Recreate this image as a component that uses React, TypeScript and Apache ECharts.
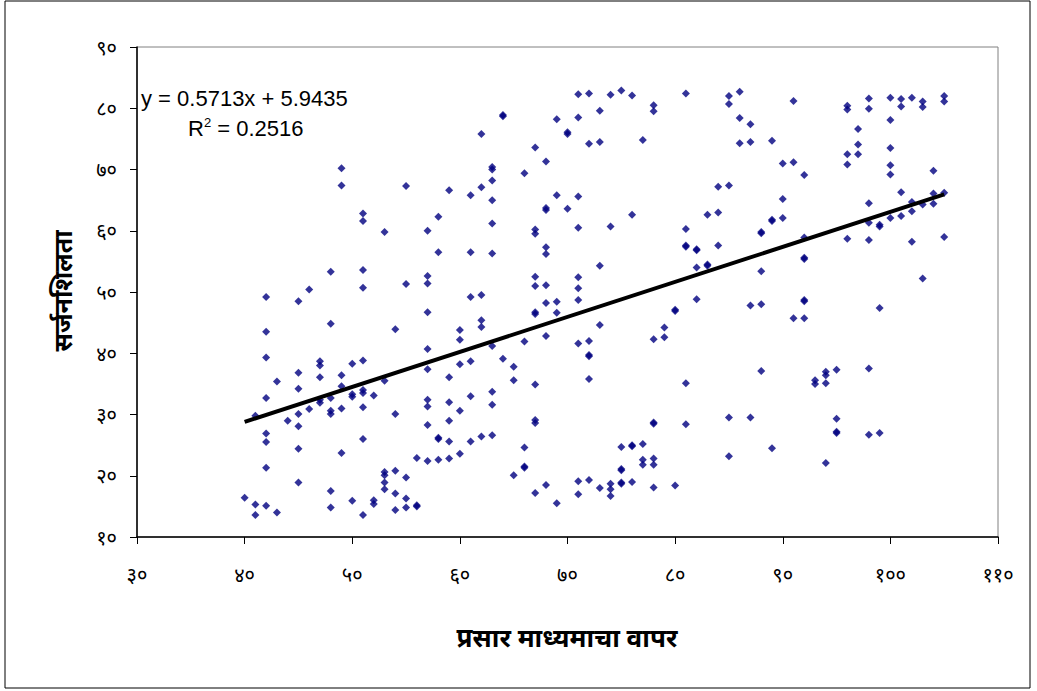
import React, { useEffect, useRef } from 'react';
import * as echarts from 'echarts';

// X categories (media usage score) and the creativity scores observed at each
const usageX = [40, 41, 42, 43, 44, 45, 46, 47, 48, 49, 50, 51, 52, 53, 54, 55, 56, 57, 58, 59, 60, 61, 62, 63, 64, 65, 66, 67, 68, 69, 70, 71, 72, 73, 74, 75, 76, 77, 78, 79, 80, 81, 82, 83, 84, 85, 86, 87, 88, 89, 90, 91, 92, 93, 94, 95, 96, 97, 98, 99, 100, 101, 102, 103, 104, 105];
const creativityY: number[][] = [
  [16.4],
  [29.8, 15.3, 13.6],
  [49.2, 43.5, 39.3, 32.7, 26.9, 25.5, 21.3, 15.1],
  [35.4, 14],
  [29],
  [48.5, 36.8, 34.2, 30.1, 28.1, 24.4, 18.9],
  [50.4, 30.9],
  [38.7, 38, 36.1, 32.4, 31.9],
  [53.3, 44.8, 32.7, 30.6, 30.1, 17.5, 14.8],
  [70.2, 67.4, 36.4, 34.6, 31, 23.7],
  [38.3, 33.3, 32.9, 15.9],
  [62.8, 61.6, 53.6, 50.7, 38.8, 34, 33.5, 31.2, 26, 13.6],
  [33.1, 16, 15.4],
  [59.8, 35.5, 20.6, 20.1, 18.9, 17.8],
  [43.9, 30.1, 20.8, 17.1, 14.4],
  [67.3, 51.3, 19.7, 16.3, 14.8],
  [22.9, 15.2, 15.0],
  [60, 52.6, 51.4, 46.7, 40.7, 37.4, 32.4, 31.3, 28.3, 22.4],
  [62.3, 56.5, 26.2, 26.0, 22.6],
  [66.6, 36.1, 32, 29, 25.6, 22.8],
  [43.8, 42.2, 38.2, 30.6, 23.6],
  [65.8, 56.5, 49.2, 38.7, 33, 25.6],
  [75.8, 67.1, 49.5, 45.4, 44.3, 26.4],
  [70.4, 70.0, 68.2, 65, 61.2, 56.3, 41.2, 33.7, 31.6, 26.6],
  [78.9, 78.7, 39.1],
  [37.8, 35.6, 20.1],
  [69.4, 41.9, 24.6, 21.5, 21.3],
  [73.6, 60.2, 59.5, 52.5, 51, 46.7, 46.4, 34.9, 29.1, 28.6, 17.2],
  [71.3, 63.7, 63.4, 57.3, 56.2, 51.1, 48.2, 42.8, 18.5],
  [78.2, 65.8, 48.4, 46.6, 15.5],
  [76.1, 75.8, 63.6],
  [82.3, 78.5, 65.6, 60.5, 52.4, 50.6, 48.7, 41.6, 19.1, 17],
  [82.4, 74.2, 42, 39.7, 39.5, 35.8, 19.3],
  [79.6, 74.5, 54.3, 44.6, 18],
  [82.2, 60.7, 18.7, 17.8, 16.7],
  [82.9, 24.7, 21.1, 20.9, 18.9, 18.7],
  [82.1, 62.6, 25, 24.8, 19],
  [74.8, 25.2, 22.6, 21.8],
  [80.5, 79.5, 42.3, 28.7, 28.5, 22.8, 21.8, 18.1],
  [44.2, 42.6],
  [47.1, 46.9, 18.4],
  [82.4, 60.3, 57.6, 57.4, 35.1, 28.4],
  [57, 56.8, 54, 48.8],
  [62.6, 54.5, 54.3],
  [67.2, 63, 57.6],
  [82, 80.7, 67.4, 29.5, 23.2],
  [82.7, 78.4, 74.3],
  [77.4, 74.5, 47.8, 29.5],
  [59.8, 59.6, 53.4, 48, 37.1],
  [74.7, 61.8, 61.6, 24.5],
  [71, 65.2, 62.1],
  [81.2, 71.2, 45.7],
  [69.1, 58.9, 55.6, 55.4, 48.7, 48.5, 45.7],
  [35.6, 35],
  [37, 36.4, 35.1, 22.1],
  [37.3, 29.3, 27.2, 27.0],
  [80.4, 79.8, 72.5, 70.8, 58.7],
  [76.6, 74.1, 72.5],
  [81.6, 79.9, 64.5, 61.3, 58.5, 37.5, 26.7],
  [61, 60.7, 47.4, 27],
  [81.7, 78.1, 73.5, 70.7, 69.2, 62.1],
  [81.5, 80.3, 66.3, 62.4],
  [81.7, 64.7, 63.2, 58.2],
  [81.1, 80.2, 64.3, 52.2],
  [69.8, 66.1, 64.4],
  [82, 81.1, 66.2, 59],
];

// Linear trendline as printed on the chart
const trendSlope = 0.5713;
const trendIntercept = 5.9435;
const trendRange = [40, 105];

const xTickLabels = ['३०', '४०', '५०', '६०', '७०', '८०', '९०', '१००', '११०'];
const yTickLabels = ['१०', '२०', '३०', '४०', '५०', '६०', '७०', '८०', '९०'];
const xTitle = 'प्रसार माध्यमाचा वापर';
const yTitle = 'सर्जनशिलता';
const equationText = 'y = 0.5713x + 5.9435';
const r2Value = '0.2516';

export default function App() {
  const ref = useRef<HTMLDivElement>(null);
  useEffect(() => {
    if (!ref.current) return;
    const chart = echarts.init(ref.current, null, { renderer: 'svg' });
    const points: number[][] = [];
    usageX.forEach((x, i) => creativityY[i].forEach((y) => points.push([x, y])));
    const trend = trendRange.map((x) => [x, trendSlope * x + trendIntercept]);
    const labelFont = "'Noto Sans', 'DejaVu Sans', sans-serif";
    const arial = "'Liberation Sans', Arial, sans-serif";
    chart.setOption({
      animation: false,
      backgroundColor: '#ffffff',
      grid: { left: 137, right: 39, top: 47, bottom: 154, show: true, borderColor: '#808080', borderWidth: 1, backgroundColor: 'transparent', outerBoundsMode: 'none' },
      xAxis: {
        type: 'value', min: 30, max: 110, interval: 10,
        axisLine: { show: true, onZero: false, lineStyle: { color: '#000', width: 1.5 } },
        axisTick: { show: true, inside: false, length: 7, lineStyle: { color: '#000' } },
        splitLine: { show: false },
        axisLabel: { margin: 27, color: '#000', fontSize: 20, fontFamily: labelFont, formatter: (v: number) => xTickLabels[Math.round((v - 30) / 10)] },
      },
      yAxis: {
        type: 'value', min: 10, max: 90, interval: 10,
        axisLine: { show: true, onZero: false, lineStyle: { color: '#000', width: 1.5 } },
        axisTick: { show: true, inside: false, length: 7, lineStyle: { color: '#000' } },
        splitLine: { show: false },
        axisLabel: { margin: 20, color: '#000', fontSize: 20, fontFamily: labelFont, formatter: (v: number) => yTickLabels[Math.round((v - 10) / 10)] },
      },
      series: [
        {
          type: 'scatter', data: points, symbol: 'diamond', symbolSize: 8,
          itemStyle: { color: '#000080' }, z: 2,
        },
        {
          type: 'line', data: trend, symbol: 'none', lineStyle: { color: '#000', width: 4 }, z: 3,
        },
      ],
      graphic: [
        { type: 'rect', shape: { x: 5, y: 1, width: 1025, height: 687 }, style: { fill: 'none', stroke: '#000', lineWidth: 1 }, silent: true, z: -1 },
        { type: 'text', x: 141, y: 98, style: { text: equationText, fontSize: 22, fontFamily: arial, fill: '#000', verticalAlign: 'middle' } },
        { type: 'text', x: 188, y: 128, style: { text: '{r|R}{s|2}{r| = ' + r2Value + '}', fontFamily: arial, fill: '#000', verticalAlign: 'middle', rich: { r: { fontSize: 22, fontFamily: arial }, s: { fontSize: 13, verticalAlign: 'top', padding: [0, 0, 11, 0], fontFamily: arial } } } },
        { type: 'text', x: 567, y: 637, style: { text: xTitle, fontSize: 26, fontWeight: 'bold', fill: '#000', align: 'center', verticalAlign: 'middle', fontFamily: labelFont } },
        { type: 'text', x: 62, y: 291, rotation: Math.PI / 2, style: { text: yTitle, fontSize: 25, fontWeight: 'bold', fill: '#000', align: 'center', verticalAlign: 'middle', fontFamily: labelFont } },
      ],
    });
    return () => chart.dispose();
  }, []);
  return <div ref={ref} style={{ position: 'fixed', left: 0, top: 0, width: 1037, height: 691 }} />;
}
